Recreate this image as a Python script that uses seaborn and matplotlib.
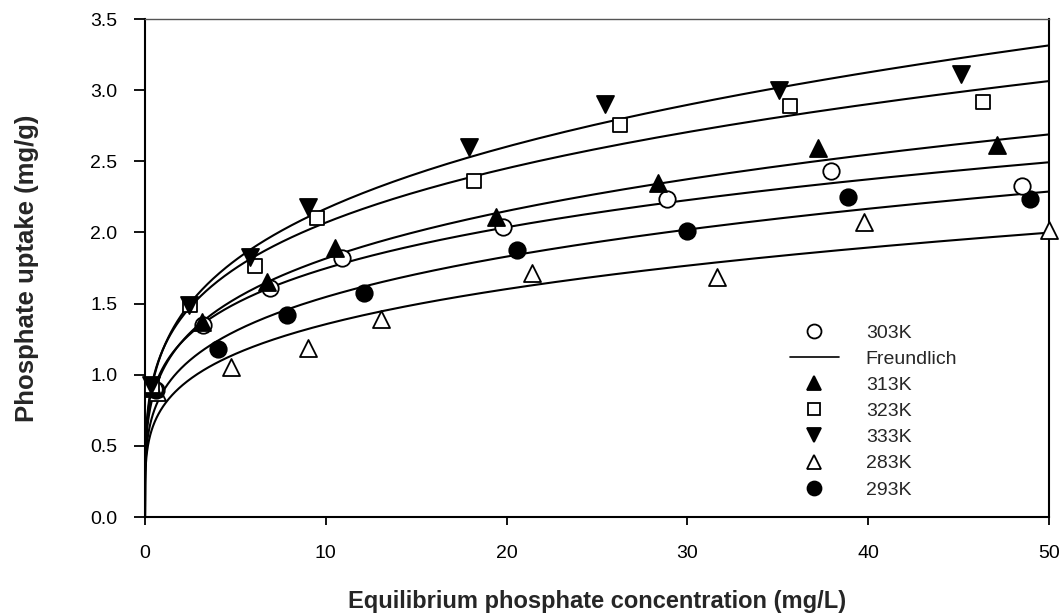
import numpy as np
import pandas as pd
import matplotlib
matplotlib.use("Agg")
import matplotlib.pyplot as plt
from matplotlib.lines import Line2D
import seaborn as sns

# ---- data ----
c_283 = [0.65, 4.74, 9.04, 13.05, 21.4, 31.65, 39.78, 50.0]
q_283 = [0.88, 1.056, 1.19, 1.389, 1.712, 1.684, 2.075, 2.02]
c_293 = [0.60, 4.06, 7.85, 12.09, 20.6, 29.96, 38.87, 48.97]
q_293 = [0.89, 1.178, 1.42, 1.572, 1.876, 2.01, 2.247, 2.232]
c_303 = [0.50, 3.23, 6.92, 10.89, 19.8, 28.87, 37.93, 48.48]
q_303 = [0.90, 1.35, 1.607, 1.818, 2.036, 2.235, 2.434, 2.328]
c_313 = [0.45, 3.14, 6.74, 10.52, 19.43, 28.38, 37.24, 47.1]
q_313 = [0.91, 1.373, 1.654, 1.888, 2.11, 2.345, 2.59, 2.614]
c_323 = [0.40, 2.49, 6.09, 9.5, 18.19, 26.27, 35.65, 46.37]
q_323 = [0.92, 1.49, 1.764, 2.099, 2.363, 2.755, 2.888, 2.92]
c_333 = [0.35, 2.45, 5.81, 9.0, 17.9, 25.45, 35.06, 45.16]
q_333 = [0.93, 1.49, 1.83, 2.176, 2.60, 2.90, 3.0, 3.113]

# Freundlich parameters (q = Kf * C^(1/n))
fit_temps = ["283K", "293K", "303K", "313K", "323K", "333K"]
fit_kf = [0.777, 0.883, 1.051, 1.036, 1.180, 1.180]
fit_inv_n = [0.2415, 0.2433, 0.2208, 0.2438, 0.2439, 0.2640]

x_ticks = [0, 10, 20, 30, 40, 50]
y_ticks = [0.0, 0.5, 1.0, 1.5, 2.0, 2.5, 3.0, 3.5]

series = {
    "283K": (c_283, q_283),
    "293K": (c_293, q_293),
    "303K": (c_303, q_303),
    "313K": (c_313, q_313),
    "323K": (c_323, q_323),
    "333K": (c_333, q_333),
}
styles = {
    "303K": dict(marker="o", fc="white", s=140),
    "313K": dict(marker="^", fc="black", s=150),
    "323K": dict(marker="s", fc="white", s=110),
    "333K": dict(marker="v", fc="black", s=150),
    "283K": dict(marker="^", fc="white", s=150),
    "293K": dict(marker="o", fc="black", s=140),
}
legend_order = ["303K", "Freundlich", "313K", "323K", "333K", "283K", "293K"]

# ---- build tables ----
pts = pd.concat(
    [pd.DataFrame({"C": c, "q": q, "T": t}) for t, (c, q) in series.items()],
    ignore_index=True,
)
c_grid = np.concatenate([[0.0], np.geomspace(1e-4, 50, 600)])
curves = pd.concat(
    [pd.DataFrame({"C": c_grid, "q": k * c_grid ** m, "T": t})
     for t, k, m in zip(fit_temps, fit_kf, fit_inv_n)],
    ignore_index=True,
)

# ---- plot ----
sns.set_style("ticks")
plt.rcParams["font.family"] = ["Liberation Sans", "DejaVu Sans"]

fig = plt.figure(figsize=(10.63, 6.13), dpi=100)
ax = fig.add_axes([145 / 1063, 96 / 613, 904 / 1063, 498 / 613])

sns.lineplot(data=curves, x="C", y="q", units="T", estimator=None,
             color="black", lw=1.5, legend=False, ax=ax, zorder=2)

for t in ["283K", "293K", "303K", "313K", "323K", "333K"]:
    st = styles[t]
    sns.scatterplot(data=pts[pts["T"] == t], x="C", y="q", marker=st["marker"],
                    s=st["s"], facecolor=st["fc"], edgecolor="black",
                    linewidth=1.3, ax=ax, zorder=3, clip_on=False, legend=False)

ax.set_xlim(0, 50)
ax.set_ylim(0, 3.5)
ax.set_xticks(x_ticks)
ax.set_xticklabels([str(v) for v in x_ticks])
ax.set_yticks(y_ticks)
ax.set_yticklabels([f"{v:.1f}" for v in y_ticks])
ax.tick_params(axis="both", direction="out", colors="black", labelsize=14,
               width=1.3)
ax.tick_params(axis="y", length=8, pad=12)
ax.tick_params(axis="x", length=6, pad=14)
for sp in ax.spines.values():
    sp.set_visible(True)
    sp.set_color("black")
    sp.set_linewidth(1.5)
ax.spines["top"].set_linewidth(1.0)
ax.spines["top"].set_color("#555555")

ax.set_xlabel("Equilibrium phosphate concentration (mg/L)", fontsize=17,
              fontweight="bold", labelpad=20)
ax.set_ylabel("Phosphate uptake (mg/g)", fontsize=18.5, fontweight="bold",
              labelpad=37)

handles = []
for lab in legend_order:
    if lab == "Freundlich":
        handles.append(Line2D([], [], color="black", lw=1.2))
    else:
        st = styles[lab]
        handles.append(Line2D([], [], ls="none", marker=st["marker"],
                              markersize=np.sqrt(st["s"]) * 0.85,
                              markerfacecolor=st["fc"], markeredgecolor="black",
                              markeredgewidth=1.3))
leg = fig.legend(handles, legend_order, loc="upper left",
                 bbox_to_anchor=(790 / 1063, 1 - 324 / 613), frameon=False,
                 fontsize=14, handlelength=2.5, handletextpad=1.4,
                 labelspacing=0.44, borderpad=0, borderaxespad=0)

fig.savefig("out.png", dpi=100)
